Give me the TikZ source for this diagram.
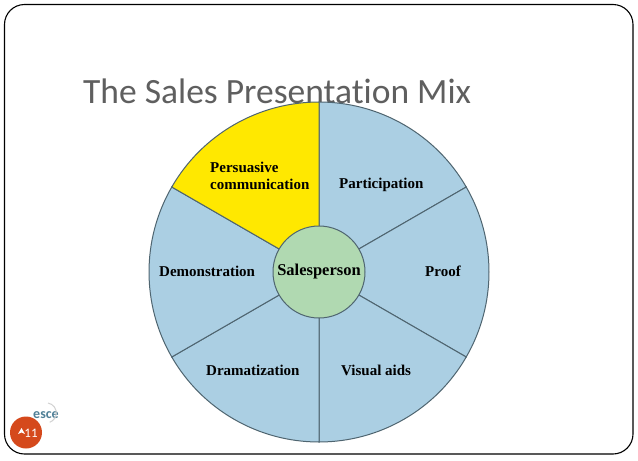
\documentclass[tikz,border=0pt]{standalone}
\usepackage{fontspec}
\setmainfont{Liberation Serif}
\newfontfamily\titlefont[Ligatures=NoCommon]{Carlito}
\definecolor{sectorblue}{HTML}{ABCFE3}
\definecolor{sectoryellow}{HTML}{FFE800}
\definecolor{hubgreen}{HTML}{B0D9B1}
\definecolor{wheelline}{HTML}{4F6570}
\definecolor{titlegrey}{HTML}{5F5F5F}
\definecolor{badge}{HTML}{D5491C}
\definecolor{logoblue}{HTML}{4F7F96}
\tikzset{
  x=1pt,y=1pt,
  sector/.style={draw=wheelline,line width=1pt,fill=sectorblue},
  seclabel/.style={font=\fontsize{15}{17.5}\selectfont\bfseries,inner sep=0pt,align=left,text=black},
}
\begin{document}
\begin{tikzpicture}
\useasboundingbox (0,-461) rectangle (638,0);
\fill[white] (0,-461) rectangle (638,0);
\draw[line width=1.1pt,black,rounded corners=20pt] (4.5,-454) rectangle (633,-4.5);
\node[anchor=base west,inner sep=0pt,text=titlegrey,font=\titlefont\fontsize{35.5}{38}\selectfont] (title) at (83,-103) {The Sales Presentation Mix};
\coordinate (c) at (319,-272);
\foreach \a/\b in {30/90,-30/30,-90/-30,-150/-90,150/210}{
  \draw[sector] (c) -- ++(\a:170) arc[start angle=\a,end angle=\b,radius=170] -- cycle;
}
\draw[sector,fill=sectoryellow] (c) -- ++(90:170) arc[start angle=90,end angle=150,radius=170] -- cycle;
\node[circle,draw=wheelline,line width=1pt,fill=hubgreen,minimum size=92pt,inner sep=0pt,font=\fontsize{16.5}{18}\selectfont\bfseries] (hub) at (c) {Salesperson};
\node[seclabel,anchor=west] (pc) at (210,-176) {Persuasive\\communication};
\node[seclabel,anchor=west] (pa) at (339,-185) {Participation};
\node[seclabel,anchor=west] (pr) at (425,-271) {Proof};
\node[seclabel,anchor=west] (va) at (341,-370) {Visual aids};
\node[seclabel,anchor=west] (dr) at (206,-370) {Dramatization};
\node[seclabel,anchor=west] (de) at (159,-271) {Demonstration};
\fill[badge] (26,-432.5) circle (16pt);
\node[inner sep=0pt,text=white,font=\fontsize{13}{14}\selectfont\titlefont,anchor=base] (num) at (31,-437) {11};
\fill[white] (18,-434) -- (21.5,-428) -- (25,-434) -- (21.5,-432.5) -- cycle;
\node[inner sep=0pt,text=logoblue,font=\fontsize{14}{15}\selectfont\titlefont\bfseries,anchor=base] (logo) at (46,-418) {esce};
\draw[black!18,line width=1pt] (48,-403) arc[start angle=80,end angle=-70,radius=10];
\end{tikzpicture}
\end{document}
